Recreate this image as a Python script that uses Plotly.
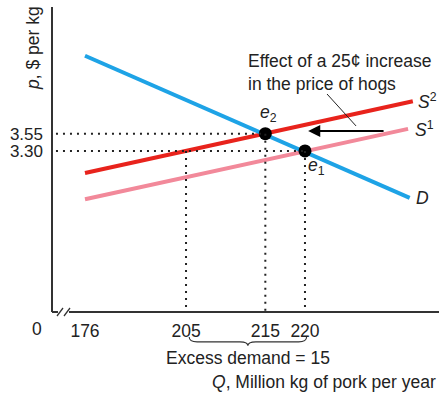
import plotly.graph_objects as go

# ---- data ----
x_ticks = [176, 205, 215, 220]
y_ticks = [3.30, 3.55]
D_q = [176, 233.2]
D_p = [4.68, 2.62]
S1_q = [176, 233.0]
S1_p = [2.60, 3.62]
S2_q = [176, 233.6]
S2_p = [2.98, 4.02]
eq_q = [220, 215]
eq_p = [3.30, 3.55]
excess_q = [205, 220]   # quantity supplied / demanded at 3.30
excess_label = "Excess demand = 15"

# broken x axis: 176..205 compressed
BREAK_POS = 192.26
def bx(q):
    if q >= 205:
        return q
    return BREAK_POS + (q - 176) * (205 - BREAK_POS) / (205 - 176)

XR = [188.10, 236.90]
YR = [0.966, 5.386]

FONT = "Liberation Sans, Arial, sans-serif"
TXT = "#222222"
BLUE = "#1ea3e6"
RED = "#e8231c"
PINK = "#f2899a"

fig = go.Figure()

dot = dict(color="#222222", width=2, dash="2px,5px")
shapes = []
shapes.append(dict(type="line", xref="x", yref="y", x0=XR[0] + 0.5, x1=bx(eq_q[0]), y0=eq_p[0], y1=eq_p[0], line=dot))
shapes.append(dict(type="line", xref="x", yref="y", x0=XR[0] + 0.5, x1=bx(eq_q[1]), y0=eq_p[1], y1=eq_p[1], line=dot))
shapes.append(dict(type="line", xref="x", yref="y", x0=bx(excess_q[0]), x1=bx(excess_q[0]), y0=eq_p[0], y1=YR[0], line=dot))
shapes.append(dict(type="line", xref="x", yref="y", x0=bx(eq_q[1]), x1=bx(eq_q[1]), y0=eq_p[1], y1=YR[0], line=dot))
shapes.append(dict(type="line", xref="x", yref="y", x0=bx(eq_q[0]), x1=bx(eq_q[0]), y0=eq_p[0], y1=YR[0], line=dot))

for q, p, c in [(S1_q, S1_p, PINK), (S2_q, S2_p, RED), (D_q, D_p, BLUE)]:
    fig.add_trace(go.Scatter(x=[bx(v) for v in q], y=p, mode="lines",
                             line=dict(color=c, width=4), hoverinfo="skip", showlegend=False))

fig.add_trace(go.Scatter(x=[bx(v) for v in eq_q], y=eq_p, mode="markers",
                         marker=dict(color="black", size=13), showlegend=False, hoverinfo="skip"))

# axes lines (with break)
AX = "#333333"
shapes.append(dict(type="line", xref="paper", yref="paper", x0=0, x1=0, y0=0, y1=1, line=dict(color=AX, width=2)))
shapes.append(dict(type="line", xref="paper", yref="paper", x0=0, x1=6/387, y0=0, y1=0, line=dict(color=AX, width=2)))
shapes.append(dict(type="line", xref="paper", yref="paper", x0=17/387, x1=1, y0=0, y1=0, line=dict(color=AX, width=2)))
shapes.append(dict(type="line", xref="paper", yref="paper", x0=5/387, x1=11/387, y0=-4/305, y1=4/305, line=dict(color=AX, width=1.3)))
shapes.append(dict(type="line", xref="paper", yref="paper", x0=12/387, x1=18/387, y0=-4/305, y1=4/305, line=dict(color=AX, width=1.3)))

# pointer line for annotation
shapes.append(dict(type="line", xref="x", yref="y", x0=222.78, y0=4.125, x1=226.44, y1=3.662,
                   line=dict(color="#222222", width=1)))

# brace under excess demand
a, b = bx(excess_q[0]) + 0.4, bx(excess_q[1]) + 0.2
m = (a + b) / 2
yb = -0.098
yt = -0.082
path = (f"M {a},{yt} Q {a},{yb} {a+1.0},{yb} L {m-1.0},{yb} Q {m},{yb} {m},{yb-0.013} "
        f"Q {m},{yb} {m+1.0},{yb} L {b-1.0},{yb} Q {b},{yb} {b},{yt}")
shapes.append(dict(type="path", xref="x", yref="paper", path=path, line=dict(color="#333333", width=1.1)))

ann = []
f17 = dict(family=FONT, size=17.5, color=TXT)
fy = dict(family=FONT, size=17, color=TXT)
ann.append(dict(x=D_q[1], y=D_p[1], xref="x", yref="y", text="<i>D</i>", showarrow=False,
                xanchor="left", xshift=4, font=f17))
ann.append(dict(x=S1_q[1], y=S1_p[1], xref="x", yref="y", text="<i>S</i><sup>1</sup>", showarrow=False,
                xanchor="left", xshift=5, font=f17))
ann.append(dict(x=S2_q[1], y=S2_p[1], xref="x", yref="y", text="<i>S</i><sup>2</sup>", showarrow=False,
                xanchor="left", xshift=3, font=f17))
ann.append(dict(x=bx(eq_q[1]), y=eq_p[1], xref="x", yref="y", text="<i>e</i><sub>2</sub>", showarrow=False,
                xshift=3, yshift=20, font=f17))
ann.append(dict(x=bx(eq_q[0]), y=eq_p[0], xref="x", yref="y", text="<i>e</i><sub>1</sub>", showarrow=False,
                xshift=12, yshift=-16, font=f17))
ann.append(dict(x=212.94, y=4.444, xref="x", yref="y", text="Effect of a 25¢ increase<br>in the price of hogs",
                showarrow=False, xanchor="left", yanchor="middle", align="left", xshift=-3, font=f17))
ann.append(dict(x=220.4, y=3.589, xref="x", yref="y", ax=230.1, ay=3.589, axref="x", ayref="y",
                text="", showarrow=True, arrowhead=2, arrowsize=1.1, arrowwidth=2.2, arrowcolor="black"))
ann.append(dict(x=m, y=-0.151, xref="x", yref="paper", text=excess_label, showarrow=False,
                xanchor="center", yanchor="middle", font=f17))
ann.append(dict(x=1, y=-0.2295, xref="paper", yref="paper", text="<i>Q</i>, Million kg of pork per year",
                showarrow=False, xanchor="right", yanchor="middle", xshift=-1, font=f17))
ann.append(dict(x=-0.049, y=0.8656, xref="paper", yref="paper", text="<i>p</i>, $ per kg",
                showarrow=False, textangle=-90, xanchor="center", yanchor="middle", font=f17))
ann.append(dict(x=0, y=0, xref="paper", yref="paper", text="0", showarrow=False,
                xanchor="center", yanchor="middle", xshift=-15, yshift=-17, font=f17))

fig.update_layout(
    width=439, height=395,
    margin=dict(l=52, r=0, t=7, b=83),
    paper_bgcolor="white", plot_bgcolor="white",
    xaxis=dict(range=XR, showgrid=False, zeroline=False, showline=False,
               tickvals=[bx(v) for v in x_ticks], ticktext=[str(v) for v in x_ticks],
               ticks="", tickfont=f17, ticklabelstandoff=6),
    yaxis=dict(range=YR, showgrid=False, zeroline=False, showline=False,
               tickvals=y_ticks, ticktext=[f"{v:.2f}" for v in y_ticks],
               ticks="", tickfont=fy, ticklabelstandoff=8),
    shapes=shapes, annotations=ann,
)

fig.write_html("out.html", config={"displayModeBar": False},
               post_script="document.body.style.margin='0';")
